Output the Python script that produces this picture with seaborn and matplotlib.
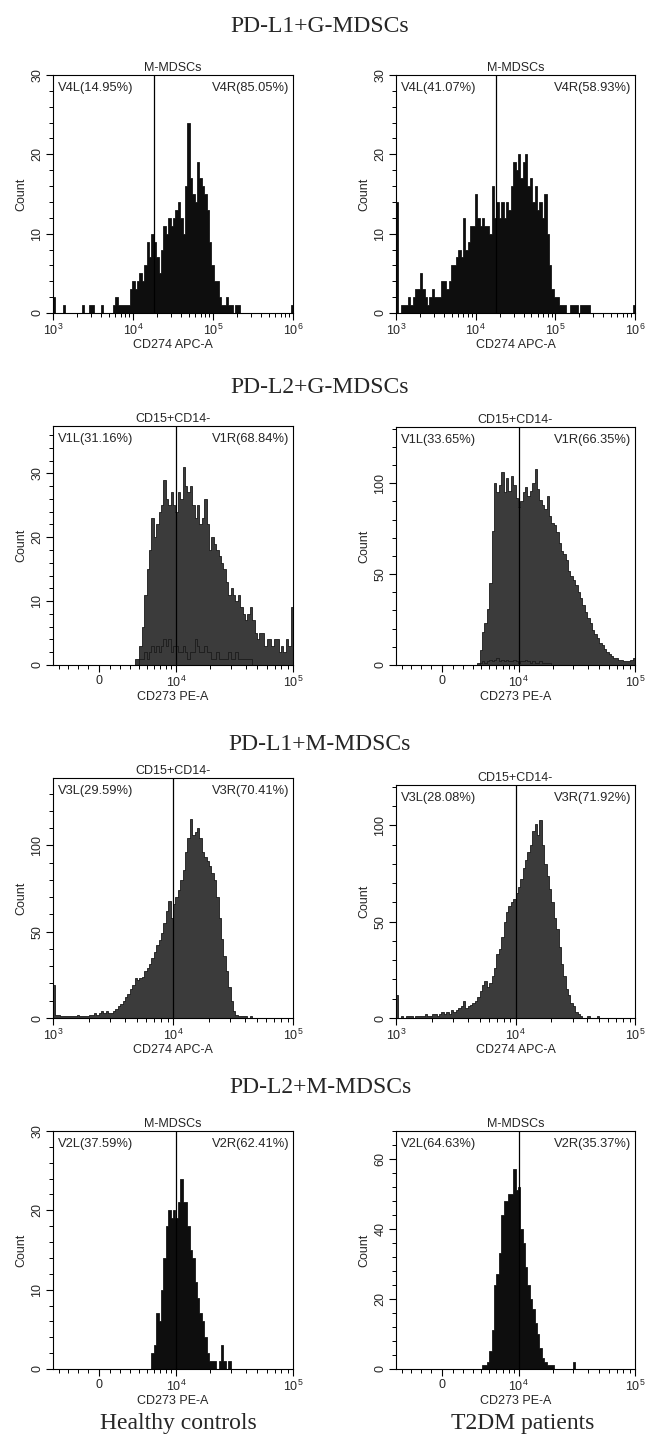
import numpy as np
import matplotlib
matplotlib.use("Agg")
import matplotlib.pyplot as plt
import seaborn as sns
from matplotlib.ticker import FixedLocator, MultipleLocator, LogLocator, NullFormatter

# ---------------- data (counts per bin) ----------------
row_titles = ["PD-L1+G-MDSCs", "PD-L2+G-MDSCs", "PD-L1+M-MDSCs", "PD-L2+M-MDSCs"]
col_labels = ["Healthy controls", "T2DM patients"]

gate_titles = ["M-MDSCs", "M-MDSCs", "CD15+CD14-", "CD15+CD14-",
               "CD15+CD14-", "CD15+CD14-", "M-MDSCs", "M-MDSCs"]
left_labels = ["V4L(14.95%)", "V4L(41.07%)", "V1L(31.16%)", "V1L(33.65%)",
               "V3L(29.59%)", "V3L(28.08%)", "V2L(37.59%)", "V2L(64.63%)"]
right_labels = ["V4R(85.05%)", "V4R(58.93%)", "V1R(68.84%)", "V1R(66.35%)",
                "V3R(70.41%)", "V3R(71.92%)", "V2R(62.41%)", "V2R(35.37%)"]
x_labels = ["CD274 APC-A", "CD274 APC-A", "CD273 PE-A", "CD273 PE-A",
            "CD274 APC-A", "CD274 APC-A", "CD273 PE-A", "CD273 PE-A"]
gates = [18500, 18000, 10000, 10000, 10000, 10000, 10000, 10000]
y_max = [30, 30, 37.4, 131, 139, 121, 30, 68]

p1_counts = [2, 0, 0, 0, 1, 0, 0, 0, 0, 0,
             0, 0, 1, 0, 0, 1, 1, 0, 0, 0,
             1, 0, 0, 0, 0, 1, 2, 1, 1, 1,
             1, 1, 3, 4, 3, 4, 5, 4, 6, 9,
             7, 10, 9, 7, 5, 8, 11, 10, 12, 11,
             12, 13, 14, 12, 10, 16, 24, 17, 15, 14,
             19, 17, 16, 15, 13, 9, 6, 4, 4, 2,
             1, 1, 2, 1, 1, 0, 1, 1, 0, 0,
             0, 0, 0, 0, 0, 0, 0, 0, 0, 0,
             0, 0, 0, 0, 0, 0, 0, 0, 0, 1]

p2_counts = [14, 0, 1, 1, 1, 2, 1, 2, 3, 3,
             5, 3, 2, 1, 2, 3, 2, 2, 2, 4,
             4, 3, 4, 6, 6, 7, 8, 7, 12, 8,
             9, 11, 11, 15, 12, 11, 12, 11, 11, 10,
             16, 12, 14, 12, 14, 12, 14, 13, 16, 19,
             18, 20, 17, 19, 20, 16, 17, 14, 16, 13,
             14, 12, 15, 10, 6, 3, 2, 2, 1, 1,
             1, 0, 0, 1, 1, 1, 0, 1, 1, 1,
             1, 0, 0, 0, 0, 0, 0, 0, 0, 0,
             0, 0, 0, 0, 0, 0, 0, 0, 0, 1]

p3_counts = [0] * 30 + [
             0, 0, 0, 0, 1, 1, 3, 6, 11, 15,
             18, 23, 20, 22, 24, 25, 29, 26, 25, 27,
             25, 24, 27, 26, 31, 28, 27, 28, 25, 23,
             25, 22, 23, 26, 22, 18, 20, 19, 18, 17,
             16, 15, 13, 11, 12, 11, 10, 11, 9, 8,
             7, 8, 9, 7, 5, 4, 5, 5, 3, 4,
             4, 3, 4, 4, 2, 3, 2, 4, 3, 9]
p3_isotype = [0] * 30 + [
             0, 0, 0, 0, 0, 0, 1, 1, 2, 1,
             2, 3, 2, 3, 2, 3, 4, 3, 4, 2,
             3, 3, 2, 2, 3, 2, 1, 2, 2, 4,
             3, 2, 2, 3, 2, 2, 1, 1, 2, 1,
             1, 1, 1, 2, 1, 1, 2, 1, 1, 1,
             1, 1, 1, 0, 0, 0, 0, 0, 0, 0,
             0, 0, 0, 0, 0, 0, 0, 0, 0, 0]

p4_counts = [0] * 30 + [
             0, 0, 0, 0, 1, 8, 18, 23, 31, 45,
             74, 100, 95, 99, 106, 95, 103, 96, 104, 99,
             92, 87, 90, 95, 98, 93, 96, 100, 108, 97,
             91, 88, 86, 93, 82, 78, 77, 73, 67, 63,
             61, 58, 52, 49, 47, 44, 40, 37, 33, 29,
             26, 23, 19, 17, 15, 12, 11, 9, 7, 6,
             5, 4, 4, 3, 3, 2, 2, 2, 3, 4]
p4_isotype = [0] * 30 + [
             0, 0, 0, 0, 0, 1, 2, 1, 2, 3,
             2, 3, 4, 2, 3, 2, 3, 2, 2, 3,
             2, 1, 2, 2, 3, 2, 1, 2, 1, 1,
             2, 1, 1, 1, 1, 0, 0, 0, 0, 0,
             0, 0, 0, 0, 0, 0, 0, 0, 0, 0,
             0, 0, 0, 0, 0, 0, 0, 0, 0, 0,
             0, 0, 0, 0, 0, 0, 0, 0, 0, 0]

p5_counts = [19, 2, 2, 1, 1, 1, 1, 1, 1, 1,
             2, 1, 1, 1, 1, 2, 2, 3, 2, 3,
             4, 3, 4, 3, 3, 4, 5, 7, 8, 10,
             12, 14, 17, 19, 23, 22, 23, 24, 27, 29,
             31, 35, 38, 42, 45, 49, 55, 62, 68, 58,
             66, 70, 74, 80, 86, 96, 104, 115, 106, 108,
             110, 104, 96, 93, 91, 88, 84, 80, 70, 58,
             46, 36, 27, 18, 10, 4, 2, 1, 1, 1,
             1, 0, 1, 0, 0, 0, 0, 0, 0, 0,
             0, 0, 0, 0, 0, 0, 0, 0, 0, 0]

p6_counts = [12, 0, 1, 0, 1, 1, 1, 0, 1, 1,
             1, 1, 2, 1, 1, 2, 2, 1, 2, 3,
             2, 3, 2, 4, 3, 4, 5, 6, 9, 5,
             6, 7, 8, 9, 11, 14, 17, 19, 16, 18,
             22, 26, 33, 36, 42, 50, 55, 58, 60, 62,
             65, 68, 72, 78, 82, 86, 90, 97, 101, 95,
             103, 90, 80, 74, 67, 60, 52, 46, 37, 28,
             22, 15, 12, 8, 6, 3, 2, 1, 0, 0,
             1, 0, 0, 0, 1, 0, 0, 0, 0, 0,
             0, 0, 0, 0, 0, 0, 0, 0, 0, 0]

p7_counts = [0] * 40 + [
             0, 2, 3, 7, 6, 10, 14, 18, 20, 19,
             20, 19, 21, 24, 21, 21, 18, 15, 14, 11,
             9, 7, 6, 4, 2, 1, 1, 1, 0, 1,
             3, 1, 0, 1, 0, 0, 0, 0, 0, 0] + [0] * 20

p8_counts = [0] * 30 + [
             0, 0, 0, 0, 0, 0, 1, 1, 2, 5,
             11, 24, 27, 33, 44, 48, 48, 50, 50, 57,
             51, 52, 40, 36, 29, 24, 20, 17, 13, 10,
             6, 3, 2, 1, 1, 1, 0, 0, 0, 0,
             0, 0, 0, 0, 2, 0, 0, 0, 0, 0] + [0] * 20

all_counts = [p1_counts, p2_counts, p3_counts, p4_counts,
              p5_counts, p6_counts, p7_counts, p8_counts]
all_isotype = [None, None, p3_isotype, p4_isotype, None, None, None, None]

# axis kinds: log decades (start, bin width in decades, end) or logicle-like display
axis_kind = ["log", "log", "bi", "bi", "log", "log", "bi", "bi"]
log_start = [3, 3, None, None, 3, 3, None, None]
log_width = [0.03, 0.03, None, None, 0.02, 0.02, None, None]
log_end = [6, 6, None, None, 5, 5, None, None]
bi_range = (-4800, 100000)

# ---------------- style ----------------
sns.set_theme(style="ticks")
plt.rcParams['font.family'] = ['Liberation Sans', 'DejaVu Sans']
plt.rcParams['mathtext.default'] = 'regular'

W, H = 645, 1441
fig = plt.figure(figsize=(W / 100, H / 100), dpi=100)
fig.patch.set_facecolor("white")


def rect(x0, y0, x1, y1):
    return [x0 / W, 1 - y1 / H, (x1 - x0) / W, (y1 - y0) / H]


boxes = [(53, 75, 293, 313), (396, 75, 635, 313),
         (53, 426, 293, 665), (396, 427, 635, 665),
         (53, 778, 293, 1018), (396, 785, 635, 1018),
         (53, 1131, 293, 1369), (396, 1131, 635, 1369)]

CB = 4750.0


def bfwd(x):
    return np.arcsinh(np.asarray(x, dtype=float) / CB) / np.log(10)


def binv(y):
    return CB * np.sinh(np.asarray(y, dtype=float) * np.log(10))


fills = ["#0e0e0e", "#0e0e0e", "#3b3b3b", "#3b3b3b",
         "#3b3b3b", "#3b3b3b", "#0e0e0e", "#0e0e0e"]

for k in range(8):
    ax = fig.add_axes(rect(*boxes[k]))
    counts = np.asarray(all_counts[k], dtype=float)
    n = len(counts)
    if axis_kind[k] == "log":
        le = log_start[k] + log_width[k] * np.arange(n + 1)
        edges = 10 ** le
        centers = 10 ** ((le[:-1] + le[1:]) / 2)
    else:
        de = np.linspace(bfwd(bi_range[0]), bfwd(bi_range[1]), n + 1)
        edges = binv(de)
        centers = binv((de[:-1] + de[1:]) / 2)

    sns.histplot(x=centers, weights=counts, bins=list(edges), element="step",
                 fill=True, color=fills[k], alpha=1, edgecolor="black",
                 linewidth=0.5, ax=ax)
    if all_isotype[k] is not None:
        sns.histplot(x=centers, weights=np.asarray(all_isotype[k], float),
                     bins=list(edges), element="step", fill=False, color="#111111",
                     linewidth=0.45, ax=ax)

    ax.axvline(gates[k], color="black", lw=0.9)

    if axis_kind[k] == "log":
        ax.set_xscale("log")
        ax.set_xlim(10 ** log_start[k], 10 ** log_end[k])
        ax.xaxis.set_major_locator(LogLocator(base=10, numticks=10))
        ax.xaxis.set_minor_locator(LogLocator(base=10, subs=np.arange(2, 10), numticks=20))
        ax.xaxis.set_minor_formatter(NullFormatter())
    else:
        ax.set_xscale("function", functions=(bfwd, binv))
        ax.set_xlim(*bi_range)
        ax.xaxis.set_major_locator(FixedLocator([0, 1e4, 1e5]))
        ax.set_xticklabels(["0", "$10^4$", "$10^5$"])
        minors = [-4000, -3000, -2000, -1000, 1000, 2000, 3000, 4000, 5000,
                  6000, 7000, 8000, 9000] + [m * 1e4 for m in range(2, 10)]
        ax.xaxis.set_minor_locator(FixedLocator(minors))
        ax.xaxis.set_minor_formatter(NullFormatter())

    ym = y_max[k]
    ax.set_ylim(0, ym)
    if ym <= 40:
        ax.yaxis.set_major_locator(MultipleLocator(10))
        ax.yaxis.set_minor_locator(MultipleLocator(2))
    elif ym < 100:
        ax.yaxis.set_major_locator(MultipleLocator(20))
        ax.yaxis.set_minor_locator(MultipleLocator(4))
    else:
        ax.yaxis.set_major_locator(MultipleLocator(50))
        ax.yaxis.set_minor_locator(MultipleLocator(10))

    ax.tick_params(axis="both", which="major", direction="out", length=5,
                   width=0.8, color="black", labelsize=9, pad=2)
    ax.tick_params(axis="both", which="minor", direction="out", length=3,
                   width=0.7, color="black")
    ax.tick_params(axis="y", labelrotation=90)
    for lab in ax.get_yticklabels():
        lab.set_va("center")
    for sp in ax.spines.values():
        sp.set_visible(True)
        sp.set_color("black")
        sp.set_linewidth(0.8)

    ax.set_ylabel("Count", fontsize=9, labelpad=3)
    ax.set_xlabel(x_labels[k], fontsize=9, labelpad=1)
    ax.set_title(gate_titles[k], fontsize=9, pad=3)
    ax.text(0.02, 0.945, left_labels[k], transform=ax.transAxes,
            fontsize=9.3, ha="left", va="center")
    ax.text(0.985, 0.945, right_labels[k], transform=ax.transAxes,
            fontsize=9.3, ha="right", va="center")

row_base = [32, 393, 750, 1093]
for t, yb in zip(row_titles, row_base):
    fig.text(320 / W, 1 - yb / H, t, family="Liberation Serif", fontsize=17,
             ha="center", va="baseline")
for t, xc in zip(col_labels, [178, 523]):
    fig.text(xc / W, 1 - 1429 / H, t, family="Liberation Serif", fontsize=17,
             ha="center", va="baseline")

fig.savefig("out.png", dpi=100, facecolor="white")
